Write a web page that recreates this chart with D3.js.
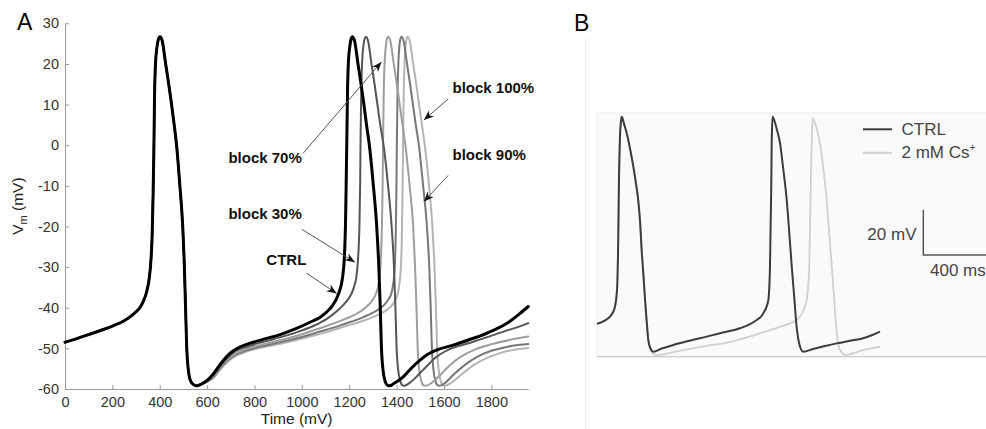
<!DOCTYPE html>
<html>
<head>
<meta charset="utf-8">
<script src="https://cdn.jsdelivr.net/npm/d3@7"></script>
<style>
  html, body { margin: 0; padding: 0; background: #fff; }
  svg { display: block; font-family: "Liberation Sans", Arial, Helvetica, sans-serif; }
</style>
</head>
<body>
<svg id="chart" width="986" height="429"></svg>
<script>
// ---------------- DATA (panel A) ----------------
// shared first beat [time ms, Vm mV]
const firstBeat = [[0,-48.5],[50,-47.6],[100,-46.6],[150,-45.6],[200,-44.5],[250,-43.2],[280,-42],[300,-41],[316,-40],[330,-38.5],[345,-36],[355,-33],[362,-29],[368,-22],[372,-12],[375,-2],[378,12],[382,20],[388,24],[394,26],[401,26.7],[410,25.8],[425,20],[438,15],[450,10],[461,5],[471,0],[485,-10],[497,-20],[504,-30],[509,-40],[514,-50],[520,-55],[530,-58],[545,-59],[556,-59.2],[575,-58.8]];

const tailCtrl = [[600,-57.9],[626,-56.3],[660,-53.6],[697,-51.2],[730,-49.9],[767,-49],[830,-47.9],[908,-46.6],[980,-45],[1048,-43.2],[1076,-42.4],[1104,-41.1],[1130,-39.4],[1147,-37.7],[1160,-35.7],[1168,-33.9],[1175,-31],[1180,-27],[1184,-20],[1187,-10],[1190,2],[1193,14],[1197,21],[1203,24.5],[1208,26.2],[1213,26.7],[1222,25.8],[1237,20],[1250,15],[1262,10],[1273,5],[1285,0],[1302,-10],[1316,-20],[1325,-30],[1331,-40],[1336,-50],[1342,-55],[1351,-58],[1362,-59.1],[1370,-59.2],[1390,-58.6],[1428,-57],[1460,-55],[1499,-52.9],[1530,-51.5],[1569,-50.4],[1639,-49.2],[1700,-48],[1780,-46.3],[1864,-43.9],[1921,-41.4],[1956,-39.7]];

const tailBlock30 = [[600,-58],[626,-56.6],[660,-54],[697,-51.7],[730,-50.4],[767,-49.6],[830,-48.5],[908,-47.3],[980,-46],[1048,-44.5],[1076,-43.7],[1104,-42.8],[1130,-41.7],[1160,-40.2],[1190,-38.3],[1210,-36.5],[1222,-34.5],[1230,-32.5],[1236,-29],[1240,-25],[1243,-20],[1246,-10],[1248,2],[1251,14],[1255,21],[1260,24.5],[1265,26.2],[1270,26.7],[1279,25.8],[1294,20],[1307,15],[1319,10],[1331,5],[1345,0],[1364,-10],[1379,-20],[1389,-30],[1395,-40],[1400,-50],[1406,-55],[1415,-58],[1425,-59.1],[1432,-59.2],[1455,-58.5],[1490,-56.6],[1530,-54.2],[1570,-52],[1620,-50.3],[1700,-48.8],[1780,-47.3],[1860,-45.7],[1920,-44.6],[1956,-43.8]];

const tailBlock70 = [[600,-58.1],[626,-56.9],[660,-54.3],[697,-52.2],[730,-51],[767,-50.1],[830,-49.1],[908,-48],[980,-46.9],[1048,-45.6],[1104,-44.5],[1160,-43.3],[1210,-42.1],[1250,-40.8],[1280,-39.4],[1300,-38],[1315,-36.2],[1325,-33.8],[1331,-30.5],[1335,-26],[1338,-20],[1341,-10],[1343,2],[1346,14],[1350,21],[1355,24.5],[1359,26.2],[1364,26.7],[1373,25.8],[1388,20],[1401,15],[1413,10],[1425,5],[1437,0],[1455,-10],[1470,-20],[1478,-30],[1484,-40],[1489,-50],[1495,-55],[1504,-58],[1514,-59.1],[1522,-59.2],[1545,-58.6],[1580,-56.8],[1620,-54.4],[1670,-52.1],[1730,-50.3],[1800,-49],[1880,-47.9],[1956,-47.1]];

const tailBlock90 = [[600,-58.2],[626,-57.1],[660,-54.6],[697,-52.5],[730,-51.3],[767,-50.5],[830,-49.5],[908,-48.5],[980,-47.5],[1048,-46.4],[1104,-45.4],[1160,-44.4],[1210,-43.4],[1260,-42.3],[1300,-41.2],[1340,-39.7],[1365,-38],[1380,-36],[1388,-33],[1393,-29],[1396,-23],[1399,-12],[1401,0],[1404,13],[1408,21],[1412,24.5],[1416,26.2],[1420,26.7],[1429,25.8],[1444,20],[1457,15],[1469,10],[1481,5],[1494,0],[1512,-10],[1528,-20],[1538,-30],[1544,-40],[1549,-50],[1555,-55],[1564,-58],[1574,-59.1],[1582,-59.2],[1605,-58.5],[1640,-56.5],[1690,-54],[1740,-52.1],[1800,-50.6],[1860,-49.7],[1920,-49.1],[1956,-48.9]];

const tailBlock100 = [[600,-58.3],[626,-57.3],[660,-54.9],[697,-52.8],[730,-51.6],[767,-50.8],[830,-49.8],[908,-48.9],[980,-47.9],[1048,-46.9],[1104,-46],[1160,-45],[1210,-44.1],[1260,-43.2],[1300,-42.3],[1340,-41.2],[1370,-40],[1392,-38.4],[1406,-36.2],[1414,-33],[1419,-29],[1422,-23],[1425,-12],[1427,0],[1430,13],[1434,21],[1438,24.5],[1442,26.2],[1446,26.7],[1455,25.8],[1470,20],[1483,15],[1495,10],[1507,5],[1519,0],[1537,-10],[1551,-20],[1560,-30],[1566,-40],[1571,-50],[1577,-55],[1586,-58],[1596,-59.1],[1604,-59.2],[1630,-58.5],[1670,-56.6],[1720,-54.3],[1780,-52.4],[1840,-51.1],[1900,-50.3],[1956,-49.9]];

const seriesNames = ["block 100%", "block 90%", "block 70%", "block 30%", "CTRL"];
const seriesTails = [tailBlock100, tailBlock90, tailBlock70, tailBlock30, tailCtrl];
const seriesColors = ["#b4b4b4", "#777777", "#9e9e9e", "#555555", "#000000"];
const seriesWidths = [2, 2, 2, 2, 3];

const xTicks = [0, 200, 400, 600, 800, 1000, 1200, 1400, 1600, 1800];
const yTicks = [-60, -50, -40, -30, -20, -10, 0, 10, 20, 30];

// annotation labels: text, label anchor (time, Vm), line start and arrow tip (time, Vm)
const annotations = [
  { text: "block 70%",  lx: 690,  ly: -4.5,  sx: 1005, sy: -2.0,  tx: 1336, ty: 20.5 },
  { text: "block 30%",  lx: 690,  ly: -18.2, sx: 1000, sy: -20.7, tx: 1224, ty: -28.8 },
  { text: "CTRL",       lx: 850,  ly: -29.5, sx: 1020, sy: -31.5, tx: 1147, ty: -36.5 },
  { text: "block 100%", lx: 1636, ly: 12.8,  sx: 1618, sy: 11.4,  tx: 1515, ty: 6.2 },
  { text: "block 90%",  lx: 1636, ly: -3.7,  sx: 1618, sy: -7.4,  tx: 1515, ty: -13.9 }
];

// ---------------- DATA (panel B) ----------------
const ctrlB = [[0,-57.6],[40,-56.3],[72,-54.4],[90,-52.3],[100,-50],[108,-45.5],[113,-39.6],[116,-30],[118,-20.4],[120,-7],[122,6.3],[125,18],[128,26.3],[132,31.5],[137,34.4],[150,31.3],[165,27.1],[185,19.6],[202,12.2],[216,5],[229,-2.6],[240,-13],[248,-24.8],[258,-36],[267,-47],[276,-56.5],[285,-64.8],[298,-68.7],[313,-70],[360,-68.6],[424,-67],[520,-65],[609,-63.3],[700,-61.5],[794,-59.6],[850,-57.8],[887,-55.9],[910,-54.5],[924,-52.9],[940,-50.4],[952,-47],[958,-40],[961,-32.2],[964,-17],[967,-2.6],[969,10],[970,19.6],[972,28],[975,34.4],[990,31.5],[1000,28.5],[1017,22.6],[1035,11],[1054,-2.6],[1068,-17],[1082,-32.2],[1096,-46],[1109,-58.9],[1128,-67.8],[1146,-70],[1200,-68.8],[1260,-67.6],[1332,-66.3],[1400,-65.2],[1479,-64],[1530,-62.6],[1572,-61.1]];

const csB = [[0,-57.6],[40,-56.3],[72,-54.4],[90,-52.3],[100,-50],[108,-45.5],[113,-39.6],[116,-30],[118,-20.4],[120,-7],[122,6.3],[125,18],[128,26.3],[132,31.5],[137,34.4],[150,31.3],[165,27.1],[185,19.6],[202,12.2],[216,5],[229,-2.6],[240,-13],[248,-24.8],[258,-36],[267,-47],[276,-56.5],[285,-64.8],[300,-69.8],[332,-71.5],[400,-70.6],[500,-69],[600,-67.5],[702,-66.3],[800,-64.4],[900,-62],[961,-60.4],[1020,-58.9],[1072,-57.4],[1105,-56],[1128,-54.4],[1150,-51],[1165,-47],[1173,-41],[1179,-32.2],[1183,-17],[1186,-2.6],[1189,10],[1192,19.6],[1195,28],[1198,33.7],[1212,31.5],[1222,28.5],[1239,22.6],[1258,11],[1276,-2.6],[1290,-17],[1304,-32.2],[1318,-47],[1332,-61.8],[1350,-69.2],[1387,-71.5],[1430,-70.5],[1479,-69.2],[1530,-68.4],[1572,-67.8]];

const legendB = ["CTRL", "2 mM Cs"];
const legendBColors = ["#3c3c3c", "#d0d0d0"];
const scaleBarLabels = ["20 mV", "400 ms"];

// ---------------- DRAW ----------------
const svg = d3.select("#chart");
const FONT = '"Liberation Sans", Arial, Helvetica, sans-serif';

svg.append("rect").attr("width", 986).attr("height", 429).attr("fill", "#fff");

// Panel A scales
const x = d3.scaleLinear().domain([0, 1956]).range([65, 528.3]);
const y = d3.scaleLinear().domain([-60, 30]).range([389, 23.3]);

const gA = svg.append("g");

// axes
const fmt = d => String(d);
const xAxis = d3.axisBottom(x).tickValues(xTicks).tickFormat(fmt).tickSizeInner(-4).tickSizeOuter(0).tickPadding(8);
const yAxis = d3.axisLeft(y).tickValues(yTicks).tickFormat(fmt).tickSizeInner(-4).tickSizeOuter(0).tickPadding(6);

const gx = gA.append("g").attr("transform", `translate(0,${y(-60)})`).call(xAxis);
const gy = gA.append("g").attr("transform", `translate(${x(0)},0)`).call(yAxis);
[gx, gy].forEach(g => {
  g.select(".domain").attr("stroke", "#9a9a9a").attr("stroke-width", 1);
  g.selectAll(".tick line").attr("stroke", "#9a9a9a");
  g.selectAll(".tick text").attr("fill", "#333").attr("font-size", 14.5).attr("font-family", FONT);
});

// traces
const line = d3.line().x(d => x(d[0])).y(d => y(d[1])).curve(d3.curveMonotoneX);
seriesNames.forEach((name, i) => {
  const data = firstBeat.concat(seriesTails[i]);
  gA.append("path")
    .datum(data)
    .attr("d", line)
    .attr("fill", "none")
    .attr("stroke", seriesColors[i])
    .attr("stroke-width", seriesWidths[i])
    .attr("stroke-linejoin", "round")
    .attr("stroke-linecap", "round");
});

// arrow marker
const defs = svg.append("defs");
defs.append("marker")
  .attr("id", "arrowhead")
  .attr("viewBox", "-11 -5 12 10")
  .attr("refX", 0).attr("refY", 0)
  .attr("markerWidth", 12).attr("markerHeight", 10)
  .attr("markerUnits", "userSpaceOnUse")
  .attr("orient", "auto")
  .append("path")
  .attr("d", "M0,0 L-10,-4 L-7,0 L-10,4 Z")
  .attr("fill", "#111");

annotations.forEach(a => {
  gA.append("line")
    .attr("x1", x(a.sx)).attr("y1", y(a.sy))
    .attr("x2", x(a.tx)).attr("y2", y(a.ty))
    .attr("stroke", "#555").attr("stroke-width", 1)
    .attr("marker-end", "url(#arrowhead)");
  gA.append("text")
    .attr("x", x(a.lx)).attr("y", y(a.ly))
    .attr("font-size", 15).attr("font-weight", "bold")
    .attr("font-family", FONT).attr("fill", "#111")
    .text(a.text);
});

// axis titles
gA.append("text")
  .attr("x", (x(0) + x(1956)) / 2).attr("y", 424)
  .attr("text-anchor", "middle").attr("font-size", 15.5).attr("font-family", FONT).attr("fill", "#222")
  .text("Time (mV)");

const yl = gA.append("text")
  .attr("transform", `translate(23,${(y(-60) + y(30)) / 2}) rotate(-90)`)
  .attr("text-anchor", "middle").attr("font-size", 15.5).attr("font-family", FONT).attr("fill", "#222");
yl.append("tspan").text("V");
yl.append("tspan").attr("font-size", 11).attr("dy", 4).text("m");
yl.append("tspan").attr("dy", -4).text(" (mV)");

// panel letters
svg.append("text").attr("x", 17).attr("y", 30).attr("font-size", 23).attr("font-family", FONT).attr("fill", "#000").text("A");
svg.append("text").attr("x", 574).attr("y", 31).attr("font-size", 23).attr("font-family", FONT).attr("fill", "#000").text("B");

// ---------------- Panel B ----------------
svg.append("line").attr("x1", 585.7).attr("x2", 585.7).attr("y1", 38).attr("y2", 429).attr("stroke", "#ececec").attr("stroke-width", 1);

const gB = svg.append("g");
gB.append("rect").attr("x", 597).attr("y", 113).attr("width", 400).attr("height", 244)
  .attr("fill", "#fafafa").attr("stroke", "#eeeeee").attr("stroke-width", 1);
gB.append("line").attr("x1", 597).attr("x2", 986).attr("y1", 356.7).attr("y2", 356.7).attr("stroke", "#cfcfcf").attr("stroke-width", 1.2);

const xB = d3.scaleLinear().domain([0, 1600]).range([597, 885]);
const yB = d3.scaleLinear().domain([-70, 34.4]).range([351.7, 116.7]);
const lineB = d3.line().x(d => xB(d[0])).y(d => yB(d[1])).curve(d3.curveMonotoneX);

gB.append("path").datum(csB).attr("d", lineB).attr("fill", "none")
  .attr("stroke", legendBColors[1]).attr("stroke-width", 1.8).attr("stroke-linejoin", "round");
gB.append("path").datum(ctrlB).attr("d", lineB).attr("fill", "none")
  .attr("stroke", legendBColors[0]).attr("stroke-width", 2).attr("stroke-linejoin", "round");

// legend
legendB.forEach((lab, i) => {
  const ly = 129.3 + i * 23.5;
  gB.append("line").attr("x1", 863).attr("x2", 892).attr("y1", ly).attr("y2", ly)
    .attr("stroke", legendBColors[i]).attr("stroke-width", 2);
  const t = gB.append("text").attr("x", 901.5).attr("y", ly + 5.5)
    .attr("font-size", 17).attr("font-family", FONT).attr("fill", "#444").text(lab);
  if (i === 1) t.append("tspan").attr("font-size", 10).attr("dy", -7).text("+");
});

// scale bar
gB.append("path").attr("d", "M923.3,210 L923.3,255 L1000,255").attr("fill", "none")
  .attr("stroke", "#555").attr("stroke-width", 1.5);
gB.append("text").attr("x", 916.5).attr("y", 240).attr("text-anchor", "end")
  .attr("font-size", 17).attr("font-family", FONT).attr("fill", "#444").text(scaleBarLabels[0]);
gB.append("text").attr("x", 930).attr("y", 276)
  .attr("font-size", 17).attr("font-family", FONT).attr("fill", "#444").text(scaleBarLabels[1]);
</script>
</body>
</html>
